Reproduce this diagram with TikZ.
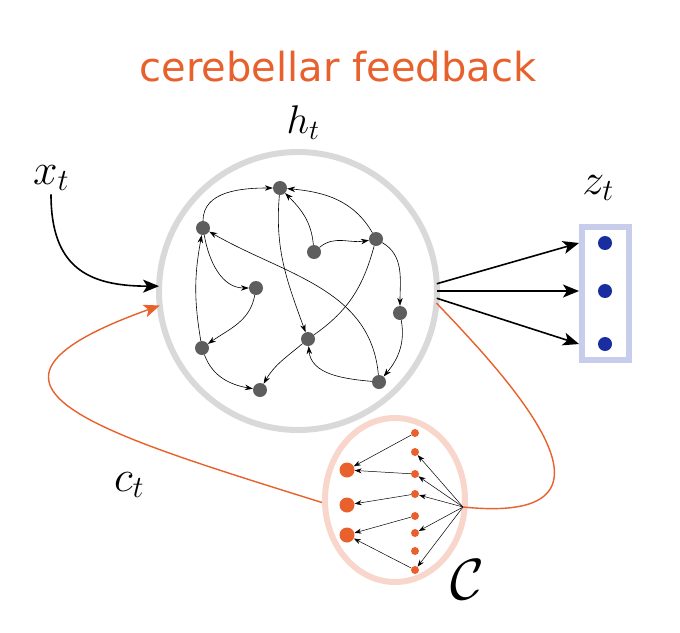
\RequirePackage{fix-cm}
\documentclass[tikz,border=0pt]{standalone}
\usepackage{fontspec}
\newfontfamily\dejavu{DejaVu Sans}
\usetikzlibrary{arrows.meta,shapes.geometric}
\definecolor{cbOrange}{HTML}{E8602C}
\definecolor{ringgray}{HTML}{D9D9D9}
\definecolor{dotgray}{HTML}{5E5E5E}
\definecolor{zblue}{HTML}{1A2DA0}
\definecolor{zboxblue}{HTML}{C8CDEB}
\definecolor{ellpink}{HTML}{F9D6CB}

\begin{document}
\begin{tikzpicture}[x=1pt,y=1pt,
    neuron/.style={circle,fill=dotgray,inner sep=0pt,minimum size=14pt},
    readout/.style={circle,fill=zblue,inner sep=0pt,minimum size=14pt},
    granule/.style={circle,fill=cbOrange,inner sep=0pt,minimum size=8pt},
    purkinje/.style={circle,fill=cbOrange,inner sep=0pt,minimum size=15pt},
    lbl/.style={font=\fontsize{40}{46}\selectfont},
    big lbl/.style={font=\fontsize{44}{50}\selectfont},
    wire/.style={line width=0.6pt,-{Stealth[length=8pt,width=5.5pt]}},
    thin wire/.style={line width=0.5pt,-{Stealth[length=7pt,width=5pt]}},
    big arrow/.style={line width=1.6pt,-{Stealth[length=16pt,width=13pt,inset=4pt]}}]
  \useasboundingbox (0,0) rectangle (680,-632);

  % reservoir
  \node[circle,draw=ringgray,line width=6pt,minimum size=278pt,outer sep=0pt] (res) at (298,-291) {};
  \node[neuron] (h_1) at (280,-188) {};
  \node[neuron] (h_2) at (203,-228) {};
  \node[neuron] (h_3) at (314,-252) {};
  \node[neuron] (h_4) at (376,-239) {};
  \node[neuron] (h_5) at (256,-288) {};
  \node[neuron] (h_6) at (400,-313) {};
  \node[neuron] (h_7) at (202,-348) {};
  \node[neuron] (h_8) at (308,-339) {};
  \node[neuron] (h_9) at (260,-390) {};
  \node[neuron] (h_10) at (379,-382) {};
  \path[wire]
    (h_2)  edge [out=90,in=180] (h_1)
           edge [out=-80,in=180] (h_5)
    (h_4)  edge [out=120,in=-5] (h_1)
           edge [out=-30,in=90] (h_6)
    (h_3)  edge [out=95,in=-45] (h_1)
           edge [out=40,in=190] (h_4)
    (h_1)  edge [out=-95,in=110] (h_8)
    (h_5)  edge [out=-100,in=35] (h_7)
    (h_7)  edge [bend left=10] (h_2)
           edge [out=-70,in=170] (h_9)
    (h_8)  edge [out=-140,in=60] (h_9)
           edge [-,out=35,in=-105] (h_4)
    (h_6)  edge [out=-80,in=50] (h_10)
    (h_10) edge [out=175,in=-85] (h_8)
           edge [out=95,in=-30] (h_2);

  % readout
  \node[draw=zboxblue,line width=6pt,minimum width=47pt,minimum height=133pt] (zbox) at (605.5,-293.5) {};
  \node[readout] (z_1) at (605,-243) {};
  \node[readout] (z_2) at (605,-291) {};
  \node[readout] (z_3) at (605,-344) {};
  \draw[big arrow] (res.3) -- (zbox.west |- z_1);
  \draw[big arrow] (res.0) -- (zbox.west |- z_2);
  \draw[big arrow] (res.-3) -- (zbox.west |- z_3);

  % cerebellum
  \node[ellipse,draw=ellpink,line width=6pt,minimum width=140pt,minimum height=164pt] (cb) at (395,-500) {};
  \coordinate (hub) at (463,-507);
  \foreach \y [count=\i] in {433,452,474,494,516,533,551,570}
    \node[granule] (p_\i) at (415,-\y) {};
  \foreach \y [count=\i] in {470,505,535}
    \node[purkinje] (g_\i) at (347,-\y) {};
  \path[thin wire]
    (p_1) edge (g_1)
    (p_3) edge (g_1)
    (p_4) edge (g_2)
    (p_5) edge (g_3)
    (p_8) edge (g_3)
    (hub) edge (p_2)
          edge (p_3)
          edge (p_4)
          edge (p_6)
          edge (p_8);

  % feedback loop
  \draw[cbOrange,line width=1.4pt] (res.-5) .. controls (520,-390) and (640,-525) .. (hub);
  \draw[cbOrange,line width=1.4pt,-{Stealth[length=16pt,width=13pt,inset=4pt]}]
    (cb.182) .. controls (90,-430) and (-62,-385) .. (res.186);

  % input
  \node[big lbl] (x) at (51,-178) {$x_t$};
  \draw[big arrow] (x) to [out=-90,in=180,looseness=1.3] (res.178);

  % labels
  \node[font=\dejavu\fontsize{40}{48}\selectfont,text=cbOrange] (title) at (338,-67) {cerebellar feedback};
  \node[lbl] (h) at (303,-123) {$h_t$};
  \node[big lbl] (z) at (598,-188) {$z_t$};
  \node[big lbl] (c) at (129,-485) {$c_t$};
  \node[font=\fontsize{58}{64}\selectfont] (C) at (467,-580) {$\mathcal{C}$};
\end{tikzpicture}
\end{document}
